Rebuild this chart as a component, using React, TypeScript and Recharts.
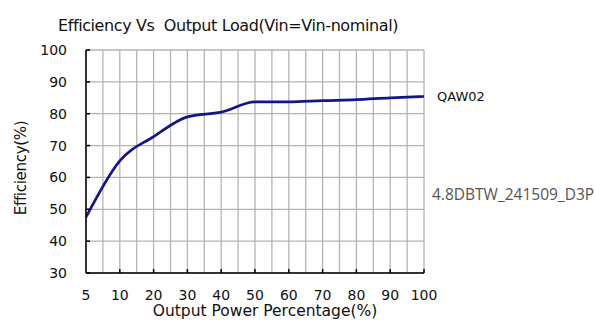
import React from 'react';
import { LineChart, Line, XAxis, YAxis, CartesianGrid } from 'recharts';

const loadLabels = ['5', '10', '20', '30', '40', '50', '60', '70', '80', '90', '100'];
const efficiency = [47.5, 65.2, 72.8, 79.0, 80.5, 83.7, 83.7, 84.1, 84.4, 85.0, 85.4];
const yTicks = [30, 40, 50, 60, 70, 80, 90, 100];

const titleText = 'Efficiency Vs  Output Load(Vin=Vin-nominal)';
const xTitle = 'Output Power Percentage(%)';
const yTitle = 'Efficiency(%)';
const seriesName = 'QAW02';
const docId = '4.8DBTW_241509_D3P';

const data = loadLabels.map((label, i) => ({ idx: i, label, eff: efficiency[i] }));
const xTicks: number[] = [];
for (let i = 0; i <= (loadLabels.length - 1) * 2; i++) xTicks.push(i / 2);

const FONT = '"DejaVu Sans", sans-serif';

const XTick = (props: any) => {
  const { x, y, payload } = props;
  const v = payload.value;
  if (!Number.isInteger(v)) return null;
  return (
    <g>
      {v > 0 && <line x1={x} y1={y} x2={x} y2={y - 4} stroke="#000" strokeWidth={1.5} />}
      <text x={x} y={y + 27} textAnchor="middle" fontSize={14} fontFamily={FONT} fill="#111">
        {loadLabels[v]}
      </text>
    </g>
  );
};

const YTick = (props: any) => {
  const { x, y, payload } = props;
  return (
    <g>
      <line x1={x} y1={y} x2={x + 4} y2={y} stroke="#000" strokeWidth={1.5} />
      <text x={x - 19} y={y + 5} textAnchor="end" fontSize={14} fontFamily={FONT} fill="#111">
        {payload.value}
      </text>
    </g>
  );
};

export default function App() {
  return (
    <div style={{ position: 'absolute', left: 0, top: 0, width: 595, height: 320, background: '#fff' }}>
      <div
        style={{
          position: 'absolute', left: 0, width: 456, top: 16, textAlign: 'center',
          fontFamily: FONT, fontSize: 16, letterSpacing: -0.4, color: '#111', whiteSpace: 'pre', lineHeight: '20px',
        }}
      >
        {titleText}
      </div>
      <LineChart width={595} height={320} data={data} margin={{ top: 50, right: 171, bottom: 0, left: 0 }}>
        <CartesianGrid stroke="#b4b4b4" strokeWidth={1.3} />
        <XAxis
          type="number"
          dataKey="idx"
          domain={[0, loadLabels.length - 1]}
          ticks={xTicks}
          interval={0}
          height={47}
          tickSize={0}
          tickMargin={0}
          tickLine={false}
          axisLine={{ stroke: '#000', strokeWidth: 1.5 }}
          tick={<XTick />}
        />
        <YAxis
          type="number"
          domain={[30, 100]}
          ticks={yTicks}
          interval={0}
          width={86}
          tickSize={0}
          tickMargin={0}
          tickLine={false}
          axisLine={{ stroke: '#000', strokeWidth: 1.5 }}
          tick={<YTick />}
        />
        <Line
          type="monotone"
          dataKey="eff"
          stroke="#14148c"
          strokeWidth={2.7}
          dot={false}
          isAnimationActive={false}
        />
      </LineChart>
      <div
        style={{
          position: 'absolute', left: 21, top: 168, transform: 'translate(-50%, -50%) rotate(-90deg)',
          fontFamily: FONT, fontSize: 15, letterSpacing: -0.3, color: '#111', whiteSpace: 'nowrap', lineHeight: '18px',
        }}
      >
        {yTitle}
      </div>
      <div
        style={{
          position: 'absolute', left: 265, top: 302, transform: 'translateX(-50%)',
          fontFamily: FONT, fontSize: 15.5, color: '#111', whiteSpace: 'nowrap', lineHeight: '18px',
        }}
      >
        {xTitle}
      </div>
      <div
        style={{
          position: 'absolute', left: 437, top: 89, fontFamily: FONT, fontSize: 13,
          color: '#111', whiteSpace: 'nowrap', lineHeight: '16px',
        }}
      >
        {seriesName}
      </div>
      <div
        style={{
          position: 'absolute', left: 432, top: 184, fontFamily: '"Open Sans", sans-serif', fontSize: 15.5,
          color: '#555', whiteSpace: 'nowrap', lineHeight: '20px',
        }}
      >
        {docId}
      </div>
    </div>
  );
}
